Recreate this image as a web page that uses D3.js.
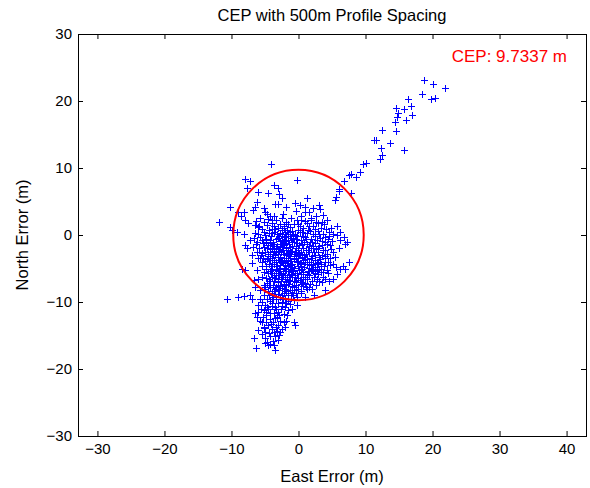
<!DOCTYPE html>
<html>
<head>
<meta charset="utf-8">
<script src="https://cdn.jsdelivr.net/npm/d3@7"></script>
<style>
  body { margin: 0; background: #fff; }
  svg text { font-family: "Liberation Sans", Arial, sans-serif; }
</style>
</head>
<body>
<div id="chart"></div>
<script>
// [east, north] errors in metres
const armNE = [
  [18.7,23.2],[20.0,22.5],[21.9,21.9],[18.4,21.1],[19.8,20.3],[20.4,20.4],[16.3,20.3],[16.8,19.3],
  [14.6,18.9],[15.7,18.8],[14.9,18.2],[17.0,17.9],[14.7,17.6],[16.1,17.2],[14.4,16.8],[12.5,15.7],
  [14.5,15.5],[11.2,14.2],[11.5,14.2],[13.7,13.7],[12.3,13.0],[15.7,12.7],[12.5,11.9],[12.2,11.4],
  [10.0,10.7],[9.7,10.6],[9.2,9.4],[7.9,9.1],[7.5,9.0],[8.6,8.7],[6.8,8.0],[6.0,6.6],[7.8,6.3],
  [5.6,5.6],[5.4,5.2],[6.1,6.8]
];
const outerNW = [
  [-0.2,8.2],[-4.1,10.6],[-8.0,8.4],[-7.3,8.1],[-7.7,7.0],[-3.7,7.5],[-3.0,7.0],[-6.0,6.4],[-4.5,6.2],
  [-2.9,6.1],[-6.2,5.0],[-6.5,4.2],[-3.5,4.7],[-3.1,4.6],[-10.2,4.2],[-9.0,3.5],[-8.2,3.4],[-5.2,4.0],
  [-4.7,3.2],[-3.7,2.9],[-11.9,2.0],[-8.0,2.2],[-6.5,1.5],[-6.0,1.2],[-4.7,1.5],[-10.2,1.2],[-9.9,0.8],
  [-9.2,0.5],[-8.2,0.2],[-5.0,3.5],[-6.8,3.8],[-2.5,5.5],[-1.8,4.2],[-0.5,4.8],[-7.5,1.8],[-8.6,2.8]
];
const innerNE = [
  [1.3,5.5],[0.2,4.5],[1.0,4.2],[2.2,4.0],[3.2,3.9],[3.7,3.0],[3.5,2.0],[5.7,1.4],[6.2,0.4],[4.2,2.3],
  [2.6,2.9],[1.6,3.4],[4.8,1.0],[5.2,0.2],[6.8,-0.3],[7.2,-1.0],[6.9,-1.3],[6.2,-0.8],[5.7,0.0],
  [3.0,4.5],[2.6,2.0],[4.5,-0.2]
];
const innerSE = [
  [7.5,-4.0],[6.7,-4.7],[6.2,-5.0],[7.0,-5.0],[4.7,-4.5],[4.2,-5.2],[5.2,-6.5],[3.7,-6.2],[3.5,-7.0],
  [2.7,-6.5],[1.2,-8.0],[1.5,-7.7],[2.0,-8.0],[4.0,-8.2],[0.7,-6.5],[0.2,-6.7],[-0.7,-9.7],[-0.2,-9.2],
  [2.5,-3.8],[2.7,-4.2],[3.0,-3.3],[1.7,-1.0],[2.2,-2.0],[3.7,-2.2],[5.2,-2.5],[4.7,-1.5],[5.5,-3.3],
  [6.0,-2.0],[4.0,-3.5],[3.3,-5.5],[5.8,-5.8],[4.5,-6.8],[2.3,-9.0],[1.0,-9.3],[0.3,-8.7]
];
const outerSW = [
  [-8.0,-1.5],[-7.7,-2.0],[-6.2,-1.0],[-5.7,-3.5],[-5.4,-4.0],[-8.5,-5.0],[-8.0,-5.2],[-6.2,-5.2],
  [-6.0,-6.5],[-6.7,-6.7],[-5.2,-7.5],[-5.7,-8.2],[-10.7,-9.5],[-9.0,-9.2],[-8.2,-9.1],[-7.2,-9.0],
  [-7.0,-9.5],[-5.2,-9.0],[-4.7,-9.5],[-7.0,-3.0],[-6.8,-1.8],[-7.3,-0.8],[-6.5,0.3],[-7.0,-4.2],[-6.5,-7.8]
];
const tailS = [
  [-6.5,-11.7],[-6.0,-11.5],[-6.2,-12.2],[-5.5,-13.0],[-5.2,-13.7],[-6.0,-14.2],[-6.7,-15.4],[-5.0,-15.4],
  [-4.7,-16.0],[-4.5,-16.4],[-6.3,-16.9],[-3.5,-17.1],[-3.0,-15.7],[-2.7,-14.5],[-2.5,-14.0],[-3.5,-15.0],
  [-3.7,-14.5],[-2.0,-13.7],[-2.2,-13.0],[-1.7,-12.0],[-1.5,-11.2],[-0.7,-13.0],[-0.5,-13.4],[-1.0,-11.0],
  [-0.2,-10.5],[-5.5,-10.0],[-5.0,-10.5],[-4.5,-11.0],[-4.0,-10.2],[-3.5,-10.8],[-3.0,-11.5],[-2.5,-10.0],
  [-2.0,-10.7],[-4.8,-12.0],[-4.2,-12.5],[-3.8,-13.0],[-3.2,-12.2],[-2.8,-12.8],[-4.5,-13.5],[-4.0,-14.0],
  [-3.0,-13.5],[-5.0,-14.5],[-4.3,-15.0],[-3.8,-15.8],[-4.2,-16.3],[-5.2,-11.2],[-5.8,-12.8],[-3.3,-9.5],
  [-4.0,-9.3],[-1.5,-9.8],[-2.3,-9.5],[-1.2,-10.3],[-0.8,-9.0],[-3.7,-11.7],[-2.2,-11.8],[-1.8,-12.8],
  [-4.7,-10.8],[-3.2,-14.3],[-4.8,-13.0],[-5.3,-12.3],[-2.6,-11.0],
  [-4.4,-9.0],[-5.8,-9.6],[-6.1,-10.5],[-5.6,-11.0],[-4.3,-11.7],[-3.5,-12.4],[-4.4,-14.6],[-5.5,-14.8],
  [-5.0,-16.1],[-3.6,-16.4],[-2.9,-14.9],[-4.2,-9.8],[-3.0,-10.1],[-2.5,-10.6],[-1.8,-10.2],[-3.9,-10.6],
  [-4.9,-11.5],[-3.3,-11.1],[-2.9,-12.0],[-4.1,-13.3],[-5.1,-13.9],[-3.4,-13.8]
];
const core = [
  [-5.8,2.6],[-4.2,2.8],[-2.3,3.1],[-1.1,2.6],[0.4,2.9],[1.8,2.5],[-3.3,2.3],[0.9,3.4],[-0.3,3.6],[2.9,1.8],
  [-6.3,2.1],[-5.1,1.9],[-4.0,2.2],[-2.8,1.7],[-1.9,2.0],[-0.7,1.6],[0.3,2.2],[1.2,1.8],[2.2,1.3],[3.3,1.0],
  [-3.6,1.4],[-1.3,1.2],[0.7,1.1],[1.9,2.3],[-5.5,0.9],[-4.4,0.7],
  [-6.0,0.2],[-5.2,0.5],[-4.1,-0.2],[-3.5,0.9],[-2.7,0.3],[-2.2,1.0],[-1.6,0.1],[-0.9,0.6],[-0.2,-0.1],
  [0.5,0.4],[1.4,0.8],[2.1,0.1],[2.9,0.6],[3.6,0.2],[4.1,0.9],[-3.0,-0.4],[-1.1,-0.5],[0.9,-0.3],[1.8,-0.6],
  [-4.8,-0.6],[-2.4,-0.8],[0.2,1.3],[-5.7,-0.3],[3.2,-0.4],
  [-5.3,-1.2],[-4.5,-1.5],[-3.8,-1.0],[-3.2,-1.6],[-2.6,-1.3],[-2.0,-0.9],[-1.4,-1.4],[-0.6,-1.1],[0.1,-1.5],
  [0.8,-1.0],[1.5,-1.6],[2.4,-1.2],[3.0,-1.7],[3.9,-1.1],[4.4,-0.6],[-1.8,-1.9],[-0.3,-2.0],[-4.2,-2.1],
  [1.1,-2.2],[-5.9,-1.9],
  [-5.0,-2.5],[-4.6,-2.9],[-3.6,-2.4],[-3.0,-2.8],[-2.3,-2.2],[-1.7,-2.7],[-1.0,-2.4],[-0.4,-2.9],[0.3,-2.5],
  [0.8,-3.0],[1.6,-2.6],[2.0,-3.1],[2.9,-2.5],[3.5,-3.0],[4.3,-2.8],[-2.7,-3.3],[-1.3,-3.4],[0.0,-3.5],
  [-4.0,-3.4],[-5.6,-3.0],[1.3,-3.6],
  [-5.0,-3.9],[-4.4,-4.3],[-3.7,-3.8],[-3.2,-4.6],[-2.5,-4.0],[-2.0,-4.5],[-1.5,-3.9],[-0.9,-4.4],[-0.2,-4.0],
  [0.4,-4.6],[1.0,-4.1],[1.8,-4.5],[2.0,-5.0],[3.3,-4.6],[3.9,-4.0],[-3.9,-5.0],[-2.8,-5.1],[-1.2,-5.0],
  [0.1,-5.2],[1.4,-5.3],[-4.9,-5.0],[-2.2,-3.5],
  [-4.6,-5.7],[-4.0,-6.2],[-3.4,-5.6],[-2.9,-6.0],[-2.3,-5.6],[-1.7,-6.2],[-1.1,-5.8],[-0.5,-6.3],[0.3,-5.8],
  [0.9,-6.2],[1.6,-5.9],[2.5,-5.7],[-3.7,-6.8],[-2.6,-6.9],[-1.4,-6.7],[-0.3,-7.0],[1.0,-7.1],[-4.7,-7.2],
  [2.0,-6.8],[-5.4,-6.2],
  [-4.2,-7.7],[-3.5,-8.0],[-3.0,-7.5],[-2.4,-7.9],[-1.8,-7.5],[-1.2,-8.2],[-0.6,-7.7],[0.0,-8.1],[0.7,-7.6],
  [-4.0,-8.7],[-3.1,-8.8],[-2.2,-8.6],[-1.5,-9.0],[-0.4,-8.7],[-4.6,-8.4],[-2.7,-9.2],[-3.8,-9.6]
];
const coreDense = [
  [-2.9,-0.1],[-2.5,-1.8],[-1.9,-3.0],[-1.2,-1.8],[-0.5,-2.5],[0.2,-3.0],[-2.1,-4.9],[-1.6,-5.4],[-0.8,-5.4],
  [-0.1,-4.7],[-2.6,-2.6],[-1.3,-0.2],[-0.8,0.2],[-2.0,0.5],[-3.4,-2.0],[-3.1,-3.3],[-2.4,-3.7],[-1.5,-4.7],
  [-0.7,-3.6],[0.6,-3.8],[-3.3,-5.2],[-2.0,-6.6],[-1.0,-6.2],[0.5,-5.0],[-3.8,-1.4],[-4.3,-3.7],[-4.8,-4.6],
  [-0.4,-1.6],[0.4,-0.8],[-1.7,0.8],[-3.9,0.3],[-0.1,0.8],[1.2,-1.3],[1.9,-1.9],[2.6,-2.1],[2.4,-3.8],
  [1.5,-4.9],[2.8,-5.2],[-4.4,-6.6],[-3.0,-7.0],[-2.2,-7.3],[-0.9,-8.6],[1.7,-7.3],
  [-4.6,2.4],[-3.9,1.8],[-2.5,2.6],[-1.5,1.6],[-0.2,2.3],[0.9,2.1],[1.6,1.4],[2.5,0.9],[-5.9,1.3],[-2.1,1.3],
  [0.0,1.7],[3.8,1.6],
  [-5.0,0.0],[-4.4,0.3],[-3.7,0.5],[-3.2,0.1],[-2.5,0.7],[-1.9,-0.2],[-1.2,0.4],[-0.5,0.0],[0.2,0.5],[0.7,-0.1],
  [1.2,0.3],[1.7,0.6],[2.4,-0.2],[3.1,0.2],[3.9,-0.3],[4.6,0.4],[-6.6,-0.5],[-4.0,0.9],
  [-5.5,-0.8],[-4.9,-1.0],[-4.3,-0.7],[-3.4,-0.6],[-2.8,-0.9],[-2.2,-0.3],[-1.6,-0.7],[-1.0,-1.0],[-0.3,-0.6],
  [0.5,-1.3],[1.1,-0.6],[2.0,-1.1],[2.7,-0.7],[3.5,-0.9],[4.2,-1.4],[5.0,-0.9],[-6.4,-1.3],
  [-5.2,-1.8],[-4.7,-2.0],[-3.9,-1.9],[-3.0,-2.1],[-2.1,-1.5],[-1.5,-2.2],[-0.9,-1.7],[-0.1,-2.3],[0.6,-1.9],
  [1.4,-2.3],[2.1,-1.6],[2.9,-2.0],[3.5,-1.5],[4.0,-2.3],[4.8,-2.1],[-6.2,-2.6],
  [-5.4,-2.7],[-4.2,-2.6],[-3.5,-3.0],[-2.9,-2.4],[-2.1,-2.9],[-1.4,-2.9],[-0.7,-3.1],[0.1,-2.7],[0.5,-3.3],
  [1.1,-2.8],[1.9,-3.4],[2.5,-3.0],[3.2,-3.6],[3.9,-3.1],[4.7,-3.4],[-6.1,-3.4],
  [-5.3,-3.5],[-4.7,-3.6],[-3.4,-4.1],[-2.9,-3.7],[-1.8,-3.8],[-1.1,-3.9],[-0.4,-3.5],[0.3,-4.2],[0.9,-3.6],
  [1.6,-4.0],[2.2,-4.4],[2.9,-4.0],[3.4,-4.3],[4.4,-4.1],[5.1,-4.4],
  [-5.5,-4.6],[-4.1,-4.7],[-3.6,-4.4],[-2.7,-4.5],[-2.3,-4.2],[-1.8,-5.0],[-1.2,-4.5],[-0.6,-4.9],[0.2,-4.4],
  [0.8,-4.8],[1.3,-4.4],[2.5,-4.8],[3.0,-5.0],[3.8,-4.7],[5.6,-4.8],
  [-5.1,-5.5],[-4.3,-5.3],[-3.7,-5.9],[-3.0,-5.4],[-2.6,-5.8],[-2.0,-5.3],[-1.4,-5.9],[-0.9,-5.2],[-0.2,-5.6],
  [0.7,-5.5],[1.2,-5.8],[2.1,-5.4],[2.9,-5.8],[3.6,-5.5],[4.4,-5.7],
  [-4.9,-6.4],[-4.2,-6.9],[-3.5,-6.4],[-3.1,-6.6],[-2.4,-6.3],[-1.9,-7.0],[-1.3,-6.3],[-0.7,-6.8],[0.0,-6.4],
  [0.5,-7.0],[1.3,-6.6],[2.3,-6.2],[3.0,-6.8],[3.9,-6.5],
  [-5.0,-7.7],[-4.4,-7.4],[-3.8,-7.4],[-3.3,-7.8],[-2.7,-7.6],[-2.0,-8.0],[-1.5,-7.3],[-1.0,-7.6],[-0.3,-7.5],
  [0.3,-7.3],[1.1,-7.8],[2.6,-7.5],
  [-3.6,-8.4],[-2.9,-8.2],[-2.5,-8.9],[-1.9,-8.4],[-1.1,-8.9],[-0.6,-8.2],[0.4,-8.4],[-3.4,-9.2],[-2.0,-9.4],
  [-5.0,-8.0],
  [-4.3,-1.2],[-3.6,-1.7],[-2.3,-1.1],[-1.1,-2.6],[-0.2,-1.2],[-3.3,-2.6],[-2.6,-3.9],[-1.6,-3.4],[-0.9,-4.8],
  [-3.9,-4.4],[-2.9,-4.9],[-1.7,-4.2],[-0.5,-5.9],[-2.3,-6.0],[-3.4,-6.0],[-4.1,-5.7],[-1.2,-6.9],[-2.7,-1.6],
  [-1.8,-1.2],[0.0,-3.9],[-4.5,-3.2],[-3.8,-2.8],[-0.8,-0.4],[-2.4,0.2],[-3.1,1.0],[1.8,-5.2],[2.3,-2.6]
];
const cep = 9.7337;
const xTicks = [-30, -20, -10, 0, 10, 20, 30, 40];
const yTicks = [-30, -20, -10, 0, 10, 20, 30];

const points = [].concat(armNE, outerNW, innerNE, innerSE, outerSW, tailS, core, coreDense);

const W = 590, H = 488;
const box = { left: 78, right: 586, top: 34, bottom: 436 };

const svg = d3.select("#chart").append("svg")
    .attr("width", W)
    .attr("height", H);

const x = d3.scaleLinear().domain([-32.9, 42.9]).range([box.left, box.right]);
const y = d3.scaleLinear().domain([-30, 30]).range([box.bottom, box.top]);

// points, snapped to pixel centres so the crosses stay sharp
const plus = "M-3.5,0H3.5M0,-3.5V3.5";
svg.append("g")
    .attr("shape-rendering", "crispEdges")
  .selectAll("path")
  .data(points)
  .enter()
  .append("path")
    .attr("transform", d => `translate(${Math.round(x(d[0])) + 0.5},${Math.round(y(d[1])) + 0.5})`)
    .attr("d", plus)
    .attr("fill", "none")
    .attr("stroke", "#0000ff")
    .attr("stroke-width", 1);

// CEP circle
svg.append("ellipse")
    .attr("cx", x(0))
    .attr("cy", y(0))
    .attr("rx", x(cep) - x(0))
    .attr("ry", y(0) - y(cep))
    .attr("fill", "none")
    .attr("stroke", "#ff0000")
    .attr("stroke-width", 2);

// axes, ticks inside
const fmt = d3.format("d");
function styleAxis(g) {
  g.select(".domain").remove();
  g.selectAll("line").attr("stroke", "#000");
  g.selectAll("text").style("font-size", "15px").attr("fill", "#000");
}
svg.append("g")
    .attr("transform", `translate(0,${box.bottom})`)
    .call(d3.axisBottom(x).tickValues(xTicks).tickFormat(fmt).tickSizeInner(-5).tickSizeOuter(0).tickPadding(7))
    .call(styleAxis);
svg.append("g")
    .attr("transform", `translate(0,${box.top})`)
    .call(d3.axisTop(x).tickValues(xTicks).tickFormat("").tickSizeInner(-5).tickSizeOuter(0))
    .call(styleAxis);
svg.append("g")
    .attr("transform", `translate(${box.left},0)`)
    .call(d3.axisLeft(y).tickValues(yTicks).tickFormat(fmt).tickSizeInner(-5).tickSizeOuter(0).tickPadding(6))
    .call(styleAxis);
svg.append("g")
    .attr("transform", `translate(${box.right},0)`)
    .call(d3.axisRight(y).tickValues(yTicks).tickFormat("").tickSizeInner(-5).tickSizeOuter(0))
    .call(styleAxis);

svg.append("rect")
    .attr("x", box.left + 0.5)
    .attr("y", box.top + 0.5)
    .attr("width", box.right - box.left)
    .attr("height", box.bottom - box.top)
    .attr("fill", "none")
    .attr("stroke", "#000")
    .attr("stroke-width", 1);

// titles
svg.append("text")
    .attr("x", (box.left + box.right) / 2)
    .attr("y", 21)
    .attr("text-anchor", "middle")
    .style("font-size", "16.5px")
    .text("CEP with 500m Profile Spacing");

svg.append("text")
    .attr("x", (box.left + box.right) / 2)
    .attr("y", 482)
    .attr("text-anchor", "middle")
    .style("font-size", "16.5px")
    .text("East Error (m)");

svg.append("text")
    .attr("transform", "rotate(-90)")
    .attr("x", -(box.top + box.bottom) / 2)
    .attr("y", 28)
    .attr("text-anchor", "middle")
    .style("font-size", "16.5px")
    .text("North Error (m)");

svg.append("text")
    .attr("x", 567)
    .attr("y", 62)
    .attr("text-anchor", "end")
    .attr("fill", "#ff0000")
    .style("font-size", "17px")
    .text("CEP: " + cep + " m");
</script>
</body>
</html>
